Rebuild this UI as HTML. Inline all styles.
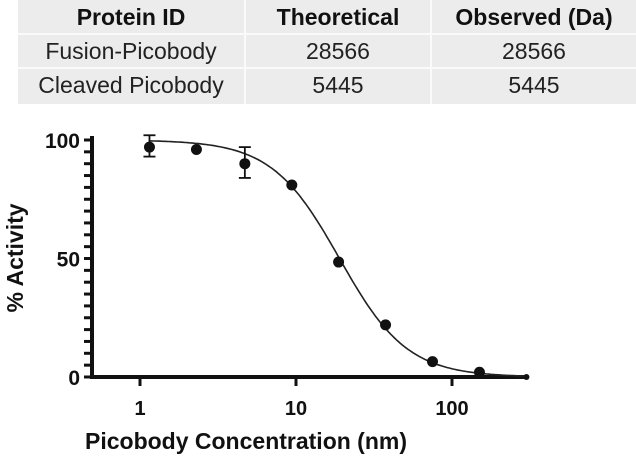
<!DOCTYPE html>
<html><head><meta charset="utf-8"><style>
body{margin:0;width:636px;height:458px;background:#fff;position:relative;overflow:hidden;font-family:"Liberation Sans",sans-serif}
#tbl{position:absolute;left:18px;top:0;width:618px;height:104px;background:#ececec}
.cell{position:absolute;height:34px;line-height:34px;text-align:center;font-size:23px;color:#222}
.h{font-weight:bold;color:#111}
.vl{position:absolute;top:0;width:2px;height:104px;background:#fafafa}
.hl{position:absolute;left:0;width:618px;height:2px;background:#fafafa}
</style></head><body>
<div id="tbl">
<div class="vl" style="left:226px"></div><div class="vl" style="left:412px"></div>
<div class="hl" style="top:33px"></div><div class="hl" style="top:67px"></div>
<div class="cell h" style="left:0;width:226px;top:0">Protein ID</div>
<div class="cell h" style="left:228px;width:184px;top:0">Theoretical</div>
<div class="cell h" style="left:414px;width:204px;top:0">Observed (Da)</div>
<div class="cell" style="left:0;width:226px;top:34px">Fusion-Picobody</div>
<div class="cell" style="left:228px;width:184px;top:34px">28566</div>
<div class="cell" style="left:414px;width:204px;top:34px">28566</div>
<div class="cell" style="left:0;width:226px;top:68px">Cleaved Picobody</div>
<div class="cell" style="left:228px;width:184px;top:68px">5445</div>
<div class="cell" style="left:414px;width:204px;top:68px">5445</div>
</div>
<svg id="chart" width="636" height="458" style="position:absolute;left:0;top:0"></svg>
<script>
const concentrations=[1.15,2.3,4.7,9.4,18.75,37.5,75,150,300];
const activity=[97,96,90,81,48.5,22,6.5,2,0];
const errLow=[93,null,84,null,null,null,null,null,null];
const errHigh=[102,null,97,null,null,null,null,null,null];
const yTicks=[0,50,100];
const xTicks=[1,10,100];
const ic50=19, hill=2;
const NS="http://www.w3.org/2000/svg";
const svg=document.getElementById('chart');
const X0=140,DEC=156,Y0=377,Y100=140;
function sx(v){return X0+Math.log10(v)*DEC;}
function sy(v){return Y0-(v/100)*(Y0-Y100);}
function mk(t,a,name){const e=document.createElementNS(NS,t);for(const k in a)e.setAttribute(k,a[k]);


svg.appendChild(e);return e;}
mk('line',{x1:92,y1:136,x2:92,y2:379,stroke:'#111','stroke-width':4},'y-axis');
mk('line',{x1:90,y1:377,x2:527,y2:377,stroke:'#111','stroke-width':4},'x-axis');
for(let v=0;v<=100;v+=5){mk('line',{x1:84,y1:sy(v),x2:92,y2:sy(v),stroke:'#111','stroke-width':3},'y-minor-tick');}
yTicks.forEach(v=>{const t=mk('text',{x:80,y:sy(v)+8,'text-anchor':'end','font-size':21,'font-weight':'bold',fill:'#111'},'y-tick-label');t.textContent=v;});
xTicks.forEach(v=>{mk('line',{x1:sx(v),y1:377,x2:sx(v),y2:386,stroke:'#111','stroke-width':3},'x-tick');
const t=mk('text',{x:sx(v),y:415,'text-anchor':'middle','font-size':20,'font-weight':'bold',fill:'#111'},'x-tick-label');t.textContent=v;});
let d='';for(let i=0;i<=200;i++){const lx=Math.log10(1.15)+i*(Math.log10(300)-Math.log10(1.15))/200;const c=Math.pow(10,lx);
const y=100/(1+Math.pow(c/ic50,hill));d+=(i?'L':'M')+sx(c).toFixed(1)+','+sy(y).toFixed(1);}
mk('path',{d:d,fill:'none',stroke:'#222','stroke-width':1.6},'fit-curve');
concentrations.forEach((c,i)=>{
if(errLow[i]!==null){const x=sx(c);
mk('line',{x1:x,y1:sy(errLow[i]),x2:x,y2:sy(errHigh[i]),stroke:'#111','stroke-width':1.8},'error-bar');
mk('line',{x1:x-6,y1:sy(errLow[i]),x2:x+6,y2:sy(errLow[i]),stroke:'#111','stroke-width':1.8},'error-cap');
mk('line',{x1:x-6,y1:sy(errHigh[i]),x2:x+6,y2:sy(errHigh[i]),stroke:'#111','stroke-width':1.8},'error-cap');}
mk('circle',{cx:sx(c),cy:sy(activity[i]),r:i==concentrations.length-1?3:5.5,fill:'#111'},'data-point');
});
const yt=mk('text',{x:0,y:0,transform:'translate(23,258) rotate(-90)','text-anchor':'middle','font-size':23,'font-weight':'bold',fill:'#111'},'y-axis-title');yt.textContent='% Activity';
const xt=mk('text',{x:246,y:449,'text-anchor':'middle','font-size':23,'font-weight':'bold',fill:'#111'},'x-axis-title');xt.textContent='Picobody Concentration (nm)';
</script>
</body></html>
